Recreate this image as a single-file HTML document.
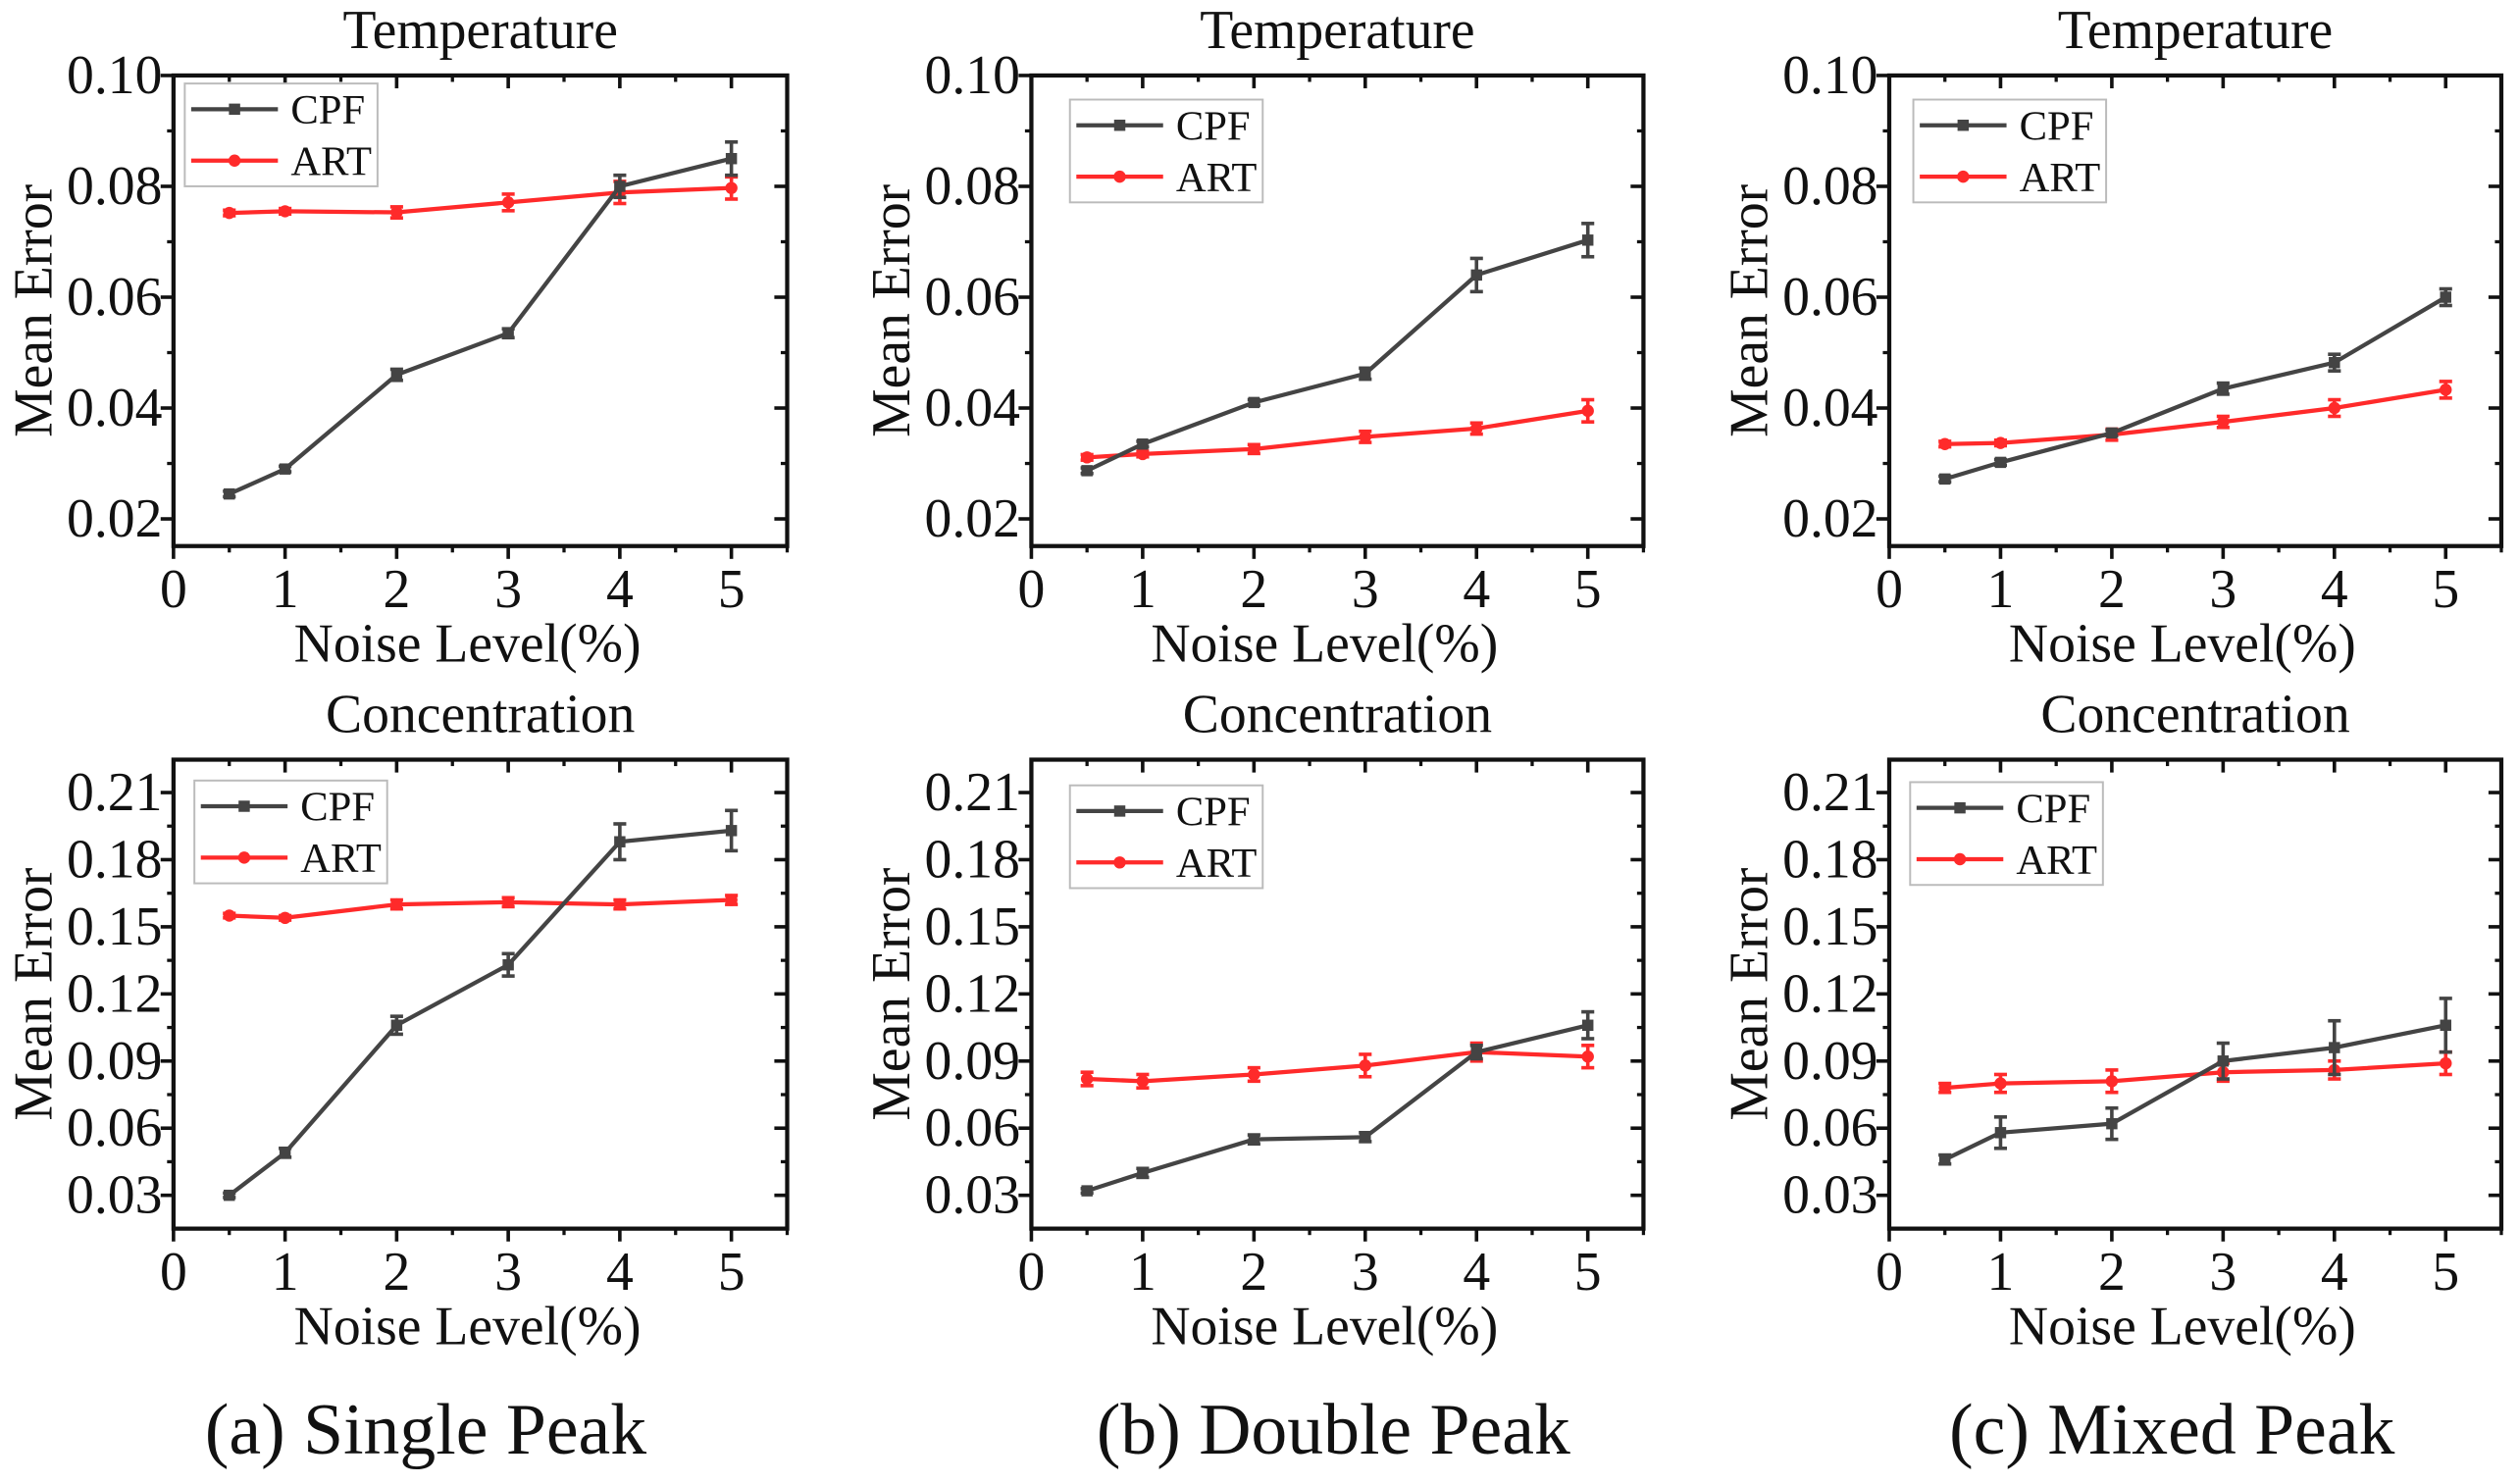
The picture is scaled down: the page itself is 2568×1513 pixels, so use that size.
<!DOCTYPE html>
<html><head><meta charset="utf-8"><style>
html,body{margin:0;padding:0;background:#fff;}
svg{display:block;}
text{font-family:"Liberation Serif","DejaVu Serif",serif;fill:#111;}
</style></head>
<body>
<svg id="fig" width="2568" height="1513" viewBox="0 0 1568 924" preserveAspectRatio="none" xmlns="http://www.w3.org/2000/svg"></svg>
<script>
const xVals=[0.5,1,2,3,4,5];
const xTicks=[0,1,2,3,4,5];
const tempTicks=[0.02,0.04,0.06,0.08,0.10];
const tempTickLabels=["0.02","0.04","0.06","0.08","0.10"];
const concTicks=[0.03,0.06,0.09,0.12,0.15,0.18,0.21];
const concTickLabels=["0.03","0.06","0.09","0.12","0.15","0.18","0.21"];
const aTempCPF=[0.0245,0.029,0.046,0.0535,0.080,0.085];
const aTempCPFErr=[0.0005,0.0005,0.001,0.0008,0.002,0.003];
const aTempART=[0.0752,0.0755,0.0753,0.0771,0.0789,0.0797];
const aTempARTErr=[0.0005,0.0005,0.001,0.0015,0.002,0.002];
const bTempCPF=[0.0287,0.0335,0.041,0.0462,0.064,0.0703];
const bTempCPFErr=[0.0005,0.0005,0.0005,0.001,0.003,0.003];
const bTempART=[0.0311,0.0317,0.0326,0.0348,0.0363,0.0395];
const bTempARTErr=[0.0005,0.0005,0.0008,0.001,0.001,0.002];
const cTempCPF=[0.0272,0.0302,0.0355,0.0435,0.0482,0.0600];
const cTempCPFErr=[0.0005,0.0005,0.0005,0.001,0.0015,0.0015];
const cTempART=[0.0335,0.0337,0.0352,0.0375,0.0400,0.0433];
const cTempARTErr=[0.0005,0.0005,0.001,0.001,0.0015,0.0015];
const aConcCPF=[0.030,0.049,0.106,0.133,0.188,0.193];
const aConcCPFErr=[0.001,0.002,0.004,0.005,0.008,0.009];
const aConcART=[0.155,0.154,0.160,0.161,0.160,0.162];
const aConcARTErr=[0.001,0.001,0.002,0.002,0.002,0.002];
const bConcCPF=[0.032,0.040,0.055,0.056,0.094,0.106];
const bConcCPFErr=[0.001,0.002,0.002,0.002,0.003,0.006];
const bConcART=[0.082,0.081,0.084,0.088,0.094,0.092];
const bConcARTErr=[0.003,0.003,0.003,0.005,0.004,0.005];
const cConcCPF=[0.046,0.058,0.062,0.090,0.096,0.106];
const cConcCPFErr=[0.002,0.007,0.007,0.008,0.012,0.012];
const cConcART=[0.078,0.080,0.081,0.085,0.086,0.089];
const cConcARTErr=[0.002,0.004,0.005,0.004,0.004,0.005];

const NS="http://www.w3.org/2000/svg";
const svg=document.getElementById('fig');
function el(tag,attrs,parent,txt){const e=document.createElementNS(NS,tag);for(const k in attrs)e.setAttribute(k,attrs[k]);if(txt!==undefined)e.textContent=txt;(parent||svg).appendChild(e);return e;}

function panel(id,L,T,R,B,ymin,ymax,ticks,labels,title,cpf,cpfE,art,artE,leg){
  const g=el('g',{});
  
  
  const sx=v=>L+(v-0)/(5.5-0)*(R-L);
  const sy=v=>B-(v-ymin)/(ymax-ymin)*(B-T);
  const t=el('text',{x:(L+R)/2,y:T-17,'text-anchor':'middle','font-size':34},g,title);
  
  
  ticks.forEach((v,i)=>{const y=sy(v);
    el('line',{x1:L-8,x2:L,y1:y,y2:y,stroke:'#111','stroke-width':2.2},g);
    el('line',{x1:R-8,x2:R,y1:y,y2:y,stroke:'#111','stroke-width':2.2},g);
    const lb=el('text',{x:L-7,y:y+11,'text-anchor':'end','font-size':34},g,labels[i]);
    
    
    if(i<ticks.length-1){const m=sy((v+ticks[i+1])/2);
      el('line',{x1:L-4,x2:L,y1:m,y2:m,stroke:'#111','stroke-width':2},g);
      el('line',{x1:R-4,x2:R,y1:m,y2:m,stroke:'#111','stroke-width':2},g);}
  });
  xTicks.forEach(v=>{const x=sx(v);
    el('line',{x1:x,x2:x,y1:B,y2:B+8,stroke:'#111','stroke-width':2.2},g);
    el('line',{x1:x,x2:x,y1:T,y2:T+8,stroke:'#111','stroke-width':2.2},g);
    const m=sx(v+0.5);
    el('line',{x1:m,x2:m,y1:B,y2:B+4,stroke:'#111','stroke-width':2},g);
    el('line',{x1:m,x2:m,y1:T,y2:T+4,stroke:'#111','stroke-width':2},g);
    const lb=el('text',{x:x,y:B+38,'text-anchor':'middle','font-size':34},g,String(v));
    
    
  });
  const yl=el('text',{x:0,y:0,'text-anchor':'middle','font-size':34,transform:`translate(${L-76},${(T+B)/2}) rotate(-90)`},g,'Mean Error');
  
  
  const xl=el('text',{x:(L+R)/2-8,y:B+72,'text-anchor':'middle','font-size':34},g,'Noise Level(%)');
  
  
  function series(vals,errs,col,name,sq){
    const pts=vals.map((v,i)=>sx(xVals[i])+','+sy(v)).join(' ');
    const pl=el('polyline',{points:pts,fill:'none',stroke:col,'stroke-width':2.6},g);
    
    
    vals.forEach((v,i)=>{const x=sx(xVals[i]);const y1=sy(v+errs[i]),y2=sy(v-errs[i]);
      el('line',{x1:x,x2:x,y1:y1,y2:y2,stroke:col,'stroke-width':2.2},g);
      el('line',{x1:x-4,x2:x+4,y1:y1,y2:y1,stroke:col,'stroke-width':2.2},g);
      el('line',{x1:x-4,x2:x+4,y1:y2,y2:y2,stroke:col,'stroke-width':2.2},g);
      const m=sq?el('rect',{x:x-3.5,y:sy(v)-3.5,width:7,height:7,fill:col},g):el('circle',{cx:x,cy:sy(v),r:3.8,fill:col},g);
      
      
    });
  }
  series(art,artE,'#ff2a2a','art',false);
  series(cpf,cpfE,'#444','cpf',true);
  el('rect',{x:L,y:T,width:R-L,height:B-T,fill:'none',stroke:'#111','stroke-width':2.6},g);
  const lg=el('g',{},g);
  
  
  const [lx,ly]=leg;
  el('rect',{x:lx,y:ly,width:120,height:64,fill:'#fff',stroke:'#bbb','stroke-width':1.2},lg);
  [['CPF','#444',true],['ART','#ff2a2a',false]].forEach((s,i)=>{const yy=ly+16+i*32;
    el('line',{x1:lx+4,x2:lx+58,y1:yy,y2:yy,stroke:s[1],'stroke-width':2.6},lg);
    if(s[2])el('rect',{x:lx+27.5,y:yy-3.5,width:7,height:7,fill:s[1]},lg);else el('circle',{cx:lx+31,cy:yy,r:3.8,fill:s[1]},lg);
    const tx=el('text',{x:lx+66,y:yy+9,'font-size':26},lg,s[0]);
    
    
  });
}
panel('panel-a-temperature',108,47,490,340,0.0151,0.10,tempTicks,tempTickLabels,'Temperature',aTempCPF,aTempCPFErr,aTempART,aTempARTErr,[115,52]);
panel('panel-b-temperature',642,47,1023,340,0.0151,0.10,tempTicks,tempTickLabels,'Temperature',bTempCPF,bTempCPFErr,bTempART,bTempARTErr,[666,62]);
panel('panel-c-temperature',1176,47,1557,340,0.0151,0.10,tempTicks,tempTickLabels,'Temperature',cTempCPF,cTempCPFErr,cTempART,cTempARTErr,[1191,62]);
panel('panel-a-concentration',108,473,490,765,0.0151,0.2247,concTicks,concTickLabels,'Concentration',aConcCPF,aConcCPFErr,aConcART,aConcARTErr,[121,486]);
panel('panel-b-concentration',642,473,1023,765,0.0151,0.2247,concTicks,concTickLabels,'Concentration',bConcCPF,bConcCPFErr,bConcART,bConcARTErr,[666,489]);
panel('panel-c-concentration',1176,473,1557,765,0.0151,0.2247,concTicks,concTickLabels,'Concentration',cConcCPF,cConcCPFErr,cConcART,cConcARTErr,[1189,487]);
[['(a) Single Peak',265],['(b) Double Peak',830],['(c) Mixed Peak',1352]].forEach(c=>{
  const t=el('text',{x:c[1],y:905,'text-anchor':'middle','font-size':45},svg,c[0]);
  
  
});
</script>
</body></html>
